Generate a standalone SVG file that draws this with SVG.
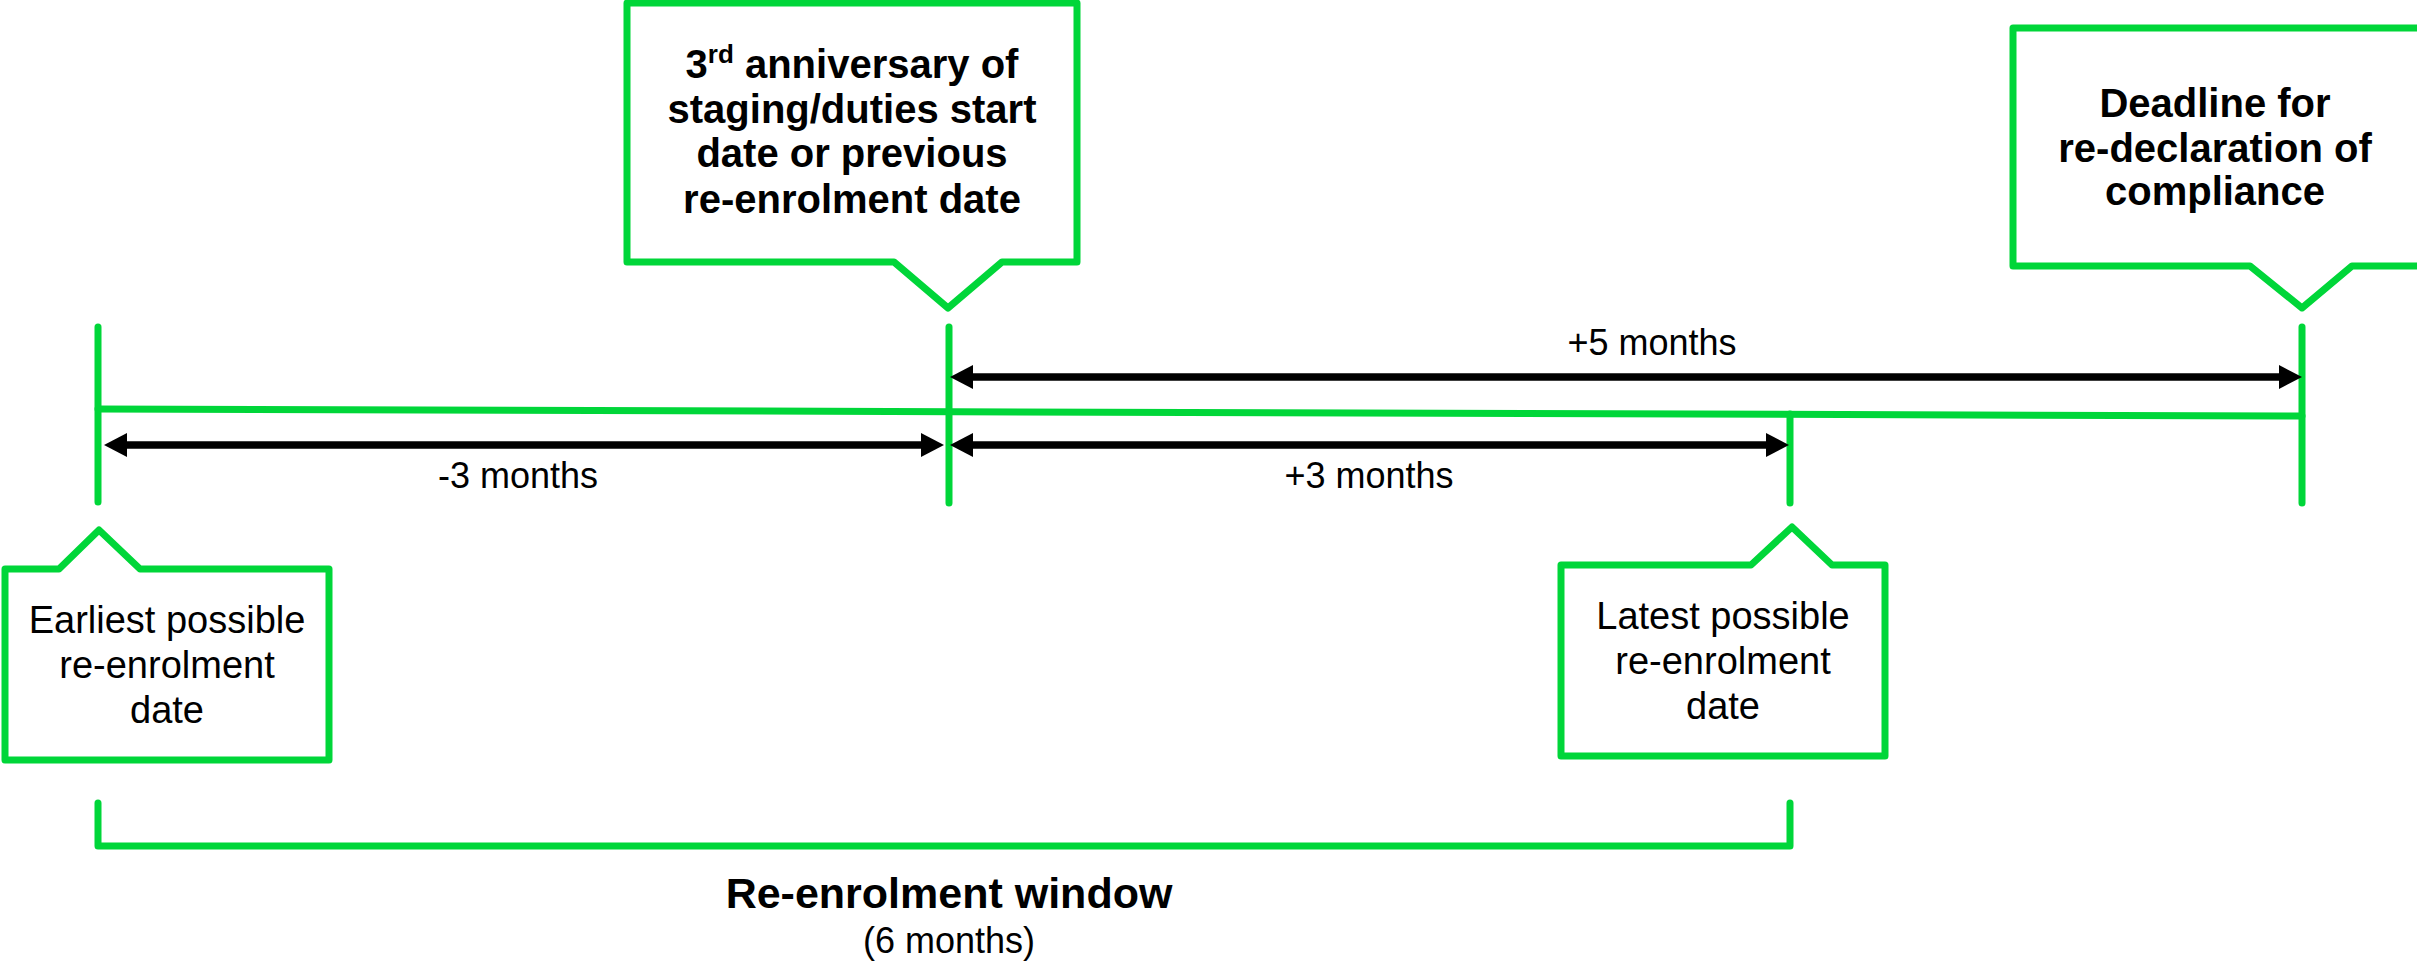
<svg xmlns="http://www.w3.org/2000/svg" width="2417" height="962" viewBox="0 0 2417 962">
  <style>
    .g { fill: none; stroke: #00D639; stroke-width: 7; stroke-linecap: round; stroke-linejoin: round; }
    .box { fill: #FFFFFF; stroke: #00D639; stroke-width: 7; stroke-linejoin: round; }
    .arr { stroke: #000000; stroke-width: 7.5; fill: none; marker-start: url(#ah); marker-end: url(#ah); }
    .t { font-family: "Liberation Sans", Arial, sans-serif; fill: #000000; text-anchor: middle; }
    .r { font-size: 36px; }
    .rb { font-size: 38px; }
    .b { font-size: 40px; font-weight: bold; }
  </style>
  <defs>
    <marker id="ah" markerUnits="userSpaceOnUse" viewBox="0 0 23 24" markerWidth="23" markerHeight="24" refX="1" refY="12" orient="auto-start-reverse">
      <path d="M0,0 L23,12 L0,24 Z" fill="#000000"/>
    </marker>
  </defs>
  <rect width="2417" height="962" fill="#FFFFFF"/>

  <g id="connectors">
    <line class="g" x1="98" y1="409" x2="2302" y2="416"/>
    <line class="g" x1="98" y1="327" x2="98" y2="502"/>
    <line class="g" x1="949" y1="327" x2="949" y2="503"/>
    <line class="g" x1="2302" y1="327" x2="2302" y2="503"/>
    <line class="g" x1="1790" y1="414" x2="1790" y2="503"/>
    <line class="arr" x1="972" y1="377" x2="2280" y2="377"/>
    <line class="arr" x1="126" y1="445" x2="922" y2="445"/>
    <line class="arr" x1="972" y1="445" x2="1767" y2="445"/>
    <path class="g" d="M98,803 L98,846 L1790,846 L1790,803"/>
  </g>

  <g id="label-plus5">
    <text class="t r" x="1652" y="355">+5 months</text>
  </g>
  <g id="label-minus3">
    <text class="t r" x="518" y="488">-3 months</text>
  </g>
  <g id="label-plus3">
    <text class="t r" x="1369" y="488">+3 months</text>
  </g>

  <g id="node-anniversary">
    <path class="box" d="M627,3 L1077,3 L1077,262 L1002,262 L948,308 L894,262 L627,262 Z"/>
    <text class="t b" x="852" y="78">3<tspan font-size="26" dy="-15">rd</tspan><tspan dy="15"> anniversary of</tspan></text>
    <text class="t b" x="852" y="123">staging/duties start</text>
    <text class="t b" x="852" y="167">date or previous</text>
    <text class="t b" x="852" y="213">re-enrolment date</text>
  </g>

  <g id="node-deadline">
    <path class="box" d="M2013,28 L2422,28 L2422,266 L2352,266 L2302,308 L2250,266 L2013,266 Z"/>
    <text class="t b" x="2215" y="117">Deadline for</text>
    <text class="t b" x="2215" y="162">re-declaration of</text>
    <text class="t b" x="2215" y="205">compliance</text>
  </g>

  <g id="node-earliest">
    <path class="box" d="M5,569 L59,569 L99,530 L140,569 L329,569 L329,760 L5,760 Z"/>
    <text class="t rb" x="167" y="633">Earliest possible</text>
    <text class="t rb" x="167" y="678">re-enrolment</text>
    <text class="t rb" x="167" y="723">date</text>
  </g>

  <g id="node-latest">
    <path class="box" d="M1561,565 L1751,565 L1792,527 L1832,565 L1885,565 L1885,756 L1561,756 Z"/>
    <text class="t rb" x="1723" y="629">Latest possible</text>
    <text class="t rb" x="1723" y="674">re-enrolment</text>
    <text class="t rb" x="1723" y="719">date</text>
  </g>

  <g id="window-label">
    <text class="t" x="949" y="908" font-size="43" font-weight="bold">Re-enrolment window</text>
    <text class="t r" x="949" y="953">(6 months)</text>
  </g>
</svg>
